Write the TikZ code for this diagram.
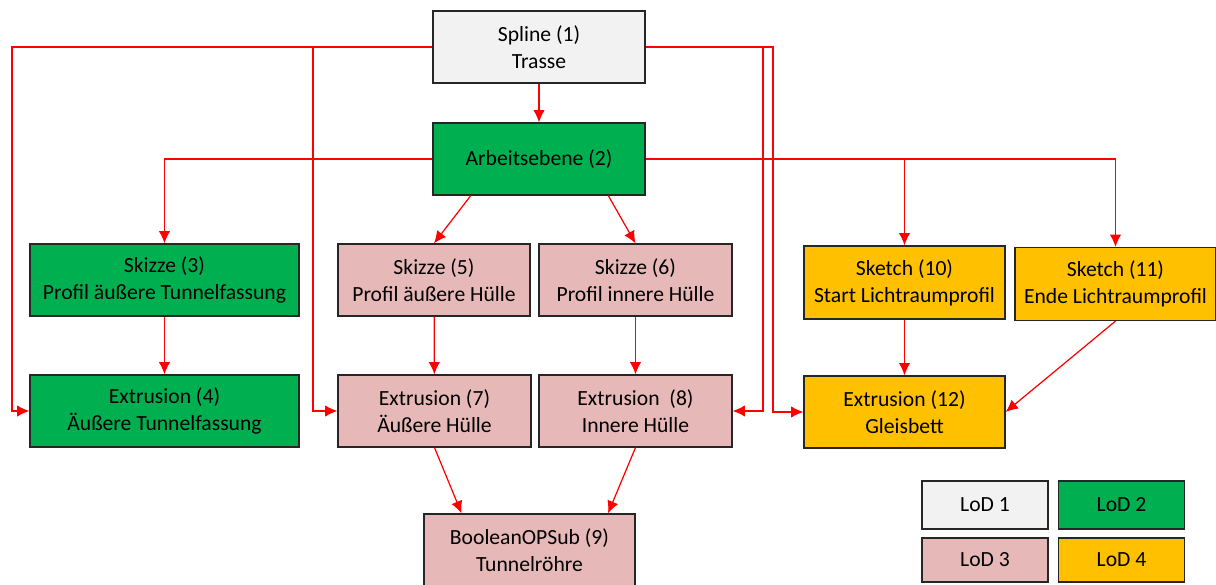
\documentclass[tikz,border=0pt]{standalone}
\usepackage{fontspec}
\setmainfont{Carlito}
\usetikzlibrary{arrows.meta,calc}
\definecolor{lodgrey}{HTML}{F2F2F2}
\definecolor{lodgreen}{HTML}{00B050}
\definecolor{lodpink}{HTML}{E6B9B8}
\definecolor{lodorange}{HTML}{FFC000}
\tikzset{
  box/.style={draw=black!85,line width=0.7pt,align=center,minimum height=1.44cm,inner sep=0pt,
    font=\fontsize{12.3}{15.4}\selectfont},
  legend/.style={draw=black!85,line width=0.7pt,minimum width=2.52cm,inner sep=0pt,
    font=\fontsize{12.3}{14}\selectfont},
  link/.style={red,line width=0.7pt,-{Latex[length=7pt,width=6.5pt]}}
}
\begin{document}
\begin{tikzpicture}
          \useasboundingbox (0,0) rectangle (24.32,-11.70);
          \clip (0,0) rectangle (24.32,-11.70);
          % boxes
          \node[box,fill=lodgrey,minimum width=4.24cm] (spline) at (10.78,-0.94) {Spline (1)\\Trasse};
          \node[box,fill=lodgreen,minimum width=4.24cm] (ebene) at (10.78,-3.18) {Arbeitsebene (2)};
          \node[box,fill=lodgreen,minimum width=5.38cm] (skizzeA) at (3.29,-5.60) {Skizze (3)\\Profil äußere Tunnelfassung};
          \node[box,fill=lodgreen,minimum width=5.38cm] (extrA) at (3.29,-8.22) {Extrusion (4)\\Äußere Tunnelfassung};
          \node[box,fill=lodpink,minimum width=3.84cm] (skizzeB) at (8.68,-5.60) {Skizze (5)\\Profil äußere Hülle};
          \node[box,fill=lodpink,minimum width=3.86cm] (skizzeC) at (12.71,-5.60) {Skizze (6)\\Profil innere Hülle};
          \node[box,fill=lodpink,minimum width=3.86cm] (extrB) at (8.69,-8.22) {Extrusion (7)\\Äußere Hülle};
          \node[box,fill=lodpink,minimum width=3.86cm] (extrC) at (12.71,-8.22) {Extrusion~ (8)\\Innere Hülle};
          \node[box,fill=lodpink,minimum width=4.22cm] (bool) at (10.59,-11.00) {BooleanOPSub (9)\\Tunnelröhre};
          \node[box,fill=lodorange,minimum width=4.02cm,minimum height=1.46cm] (sketchA) at (18.09,-5.65) {Sketch (10)\\Start Lichtraumprofil};
          \node[box,fill=lodorange,minimum width=4.02cm,minimum height=1.46cm] (sketchB) at (22.31,-5.68) {Sketch (11)\\Ende Lichtraumprofil};
          \node[box,fill=lodorange,minimum width=4.02cm] (extrD) at (18.09,-8.24) {Extrusion (12)\\Gleisbett};
          % legend
          \node[legend,fill=lodgrey,minimum height=0.96cm] (lod1) at (19.70,-10.10) {LoD 1};
          \node[legend,fill=lodgreen,minimum height=0.96cm] (lod2) at (22.43,-10.10) {LoD 2};
          \node[legend,fill=lodpink,minimum height=0.88cm] (lod3) at (19.70,-11.20) {LoD 3};
          \node[legend,fill=lodorange,minimum height=0.88cm] (lod4) at (22.43,-11.20) {LoD 4};
          % bus lines from the spline
          \coordinate (railA) at (0.24,0);
          \coordinate (railB) at (6.26,0);
          \coordinate (railC) at (15.26,0);
          \coordinate (railD) at (15.46,0);
          \draw[link] (spline.west) -- (spline.west -| railA) |- (extrA.west);
          \draw[link] (spline.west) -- (spline.west -| railB) |- (extrB.west);
          \draw[link] (spline.east) -- (spline.east -| railC) |- (extrC.east);
          \draw[link] (spline.east) -- (spline.east -| railD) |- (extrD.west);
          \draw[link] (spline) -- (ebene);
          % from the working plane
          \draw[link] (ebene.west) -| (skizzeA.north);
          \draw[link] (ebene.east) -| (sketchA.north);
          \draw[link] (ebene.east) -| (sketchB.north);
          \draw[link] ($(ebene.south west)!0.18!(ebene.south east)$) -- (skizzeB.north);
          \draw[link] ($(ebene.south west)!0.825!(ebene.south east)$) -- (skizzeC.north);
          % extrusions
          \draw[link] (skizzeA) -- (extrA);
          \draw[link] (skizzeB) -- (extrB);
          \draw[link] (skizzeC) -- (extrC);
          \draw[link] (sketchA) -- (extrD);
          \draw[link] (sketchB.south) -- (extrD.east);
          \draw[link] (extrB.south) -- ($(bool.north west)!0.18!(bool.north east)$);
          \draw[link] (extrC.south) -- ($(bool.north west)!0.87!(bool.north east)$);
        \end{tikzpicture}
\end{document}
